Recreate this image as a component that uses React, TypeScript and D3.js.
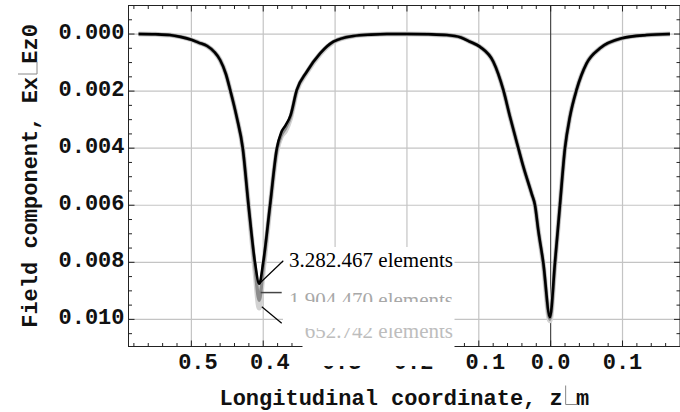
import React from "react";
import * as d3 from "d3";

// longitudinal coordinate (m) and |Ex/Ez0| for three mesh sizes (in units of 1e-3)
const zPoints = [
  -0.5735, -0.55, -0.53, -0.515, -0.5, -0.49, -0.478, -0.468, -0.46, -0.452,
  -0.446, -0.437, -0.4285, -0.4205, -0.4115, -0.4056, -0.4, -0.3905, -0.381, -0.375,
  -0.369, -0.362, -0.3533, -0.3394, -0.3208, -0.3024, -0.2745, -0.25, -0.228, -0.2,
  -0.17, -0.1447, -0.125, -0.1122, -0.0983, -0.0798, -0.0659, -0.0566, -0.045, -0.038,
  -0.0264, -0.0218, -0.0172, -0.0103, -0.001, 0.006, 0.0129, 0.0199, 0.0268, 0.036,
  0.05, 0.0686, 0.099, 0.1335, 0.166,
];
const fineMesh = [
  0, 0.01, 0.035, 0.1, 0.2, 0.3, 0.42, 0.63, 0.91, 1.4,
  1.96, 2.9, 4.0, 6.0, 8.0, 8.75, 8.0, 6.0, 4.0, 3.45,
  3.2, 2.85, 1.96, 1.32, 0.68, 0.27, 0.07, 0.02, 0, 0,
  0.01, 0.035, 0.12, 0.27, 0.45, 0.97, 1.96, 2.9, 4.0, 4.65,
  5.6, 6.0, 6.88, 8.0, 9.92, 8.0, 6.0, 4.0, 2.9, 1.96,
  1.03, 0.5, 0.15, 0.035, 0,
];
const mediumMesh = [
  0, 0.01, 0.035, 0.1, 0.2, 0.3, 0.42, 0.63, 0.91, 1.4,
  1.96, 2.9, 4.0, 6.0, 8.15, 9.33, 8.15, 6.0, 4.05, 3.55,
  3.3, 2.9, 1.98, 1.33, 0.68, 0.27, 0.07, 0.02, 0, 0,
  0.01, 0.035, 0.12, 0.27, 0.45, 0.97, 1.96, 2.9, 4.0, 4.65,
  5.6, 6.0, 6.88, 8.05, 10.0, 8.05, 6.0, 4.0, 2.9, 1.96,
  1.03, 0.5, 0.15, 0.035, 0,
];
const coarseMesh = [
  0, 0.01, 0.035, 0.1, 0.2, 0.3, 0.42, 0.63, 0.91, 1.4,
  1.96, 2.9, 4.0, 6.0, 8.3, 9.6, 8.3, 6.05, 4.1, 3.6,
  3.4, 2.95, 2.0, 1.35, 0.7, 0.28, 0.07, 0.02, 0, 0,
  0.01, 0.035, 0.12, 0.27, 0.45, 0.97, 1.96, 2.9, 4.0, 4.65,
  5.6, 6.0, 6.88, 8.05, 10.05, 8.05, 6.0, 4.0, 2.9, 1.96,
  1.03, 0.5, 0.15, 0.035, 0,
];
const meshLabels = ["3.282.467 elements", "1.904.470 elements", "652.742 elements"];

const xTickValues = [-0.5, -0.4, -0.3, -0.2, -0.1, 0, 0.1];
const xTickLabels = ["0.5", "0.4", "0.3", "0.2", "0.1", "0.0", "0.1"];
const yTickValues = [0, 0.002, 0.004, 0.006, 0.008, 0.01];
const yTickLabels = ["0.000", "0.002", "0.004", "0.006", "0.008", "0.010"];

const UNIT = 1e-3;
const left = 128.5, right = 680, top = 5.5, bottom = 346.5;
const mono = "'Liberation Mono', 'Courier New', monospace";
const serif = "'Liberation Serif', 'Times New Roman', serif";
const fontSize = 22;
const charW = fontSize * 0.6;

export default function App() {
  const x = d3.scaleLinear().domain([-0.5875, 0.18]).range([left, right]);
  const y = d3.scaleLinear().domain([-0.001, 0.01095]).range([top, bottom]);

  const line = d3
    .line<[number, number]>()
    .x((d) => x(d[0]))
    .y((d) => y(d[1] * UNIT))
    .curve(d3.curveMonotoneX);

  const toPts = (vals: number[]) => zPoints.map((z, i) => [z, vals[i]] as [number, number]);

  // position of the left minimum of each series, used to anchor the callouts
  const minPoint = (vals: number[]) => {
    const i = d3.maxIndex(vals.slice(0, 25));
    return [x(zPoints[i]), y(vals[i] * UNIT)];
  };
  const [fx, fy] = minPoint(fineMesh);
  const [mx, my] = minPoint(mediumMesh);
  const [cx, cy] = minPoint(coarseMesh);

  const xMinor = d3.range(-29, 10).map((i) => i * 0.02).filter((v) => x(v) < right - 0.5);
  const yMinor = d3.range(-1, 22).map((i) => i * 0.0005);

  const titleX = "Longitudinal coordinate, z m";
  const titleY = "Field component, Ex Ez0";
  const xTitleStart = (left + right) / 2 - (titleX.length * charW) / 2;
  const yTitleStart = -(titleY.length * charW) / 2;
  const xTitleBase = 404.5;

  return (
    <svg
      width={680}
      height={412}
      style={{ position: "absolute", left: 0, top: 0, background: "#fff" }}
    >
      <rect x={0} y={0} width={680} height={412} fill="#fff" />

      {/* grid */}
      {xTickValues.filter((v) => v !== 0).map((v) => (
        <line key={"gx" + v} x1={x(v)} x2={x(v)} y1={top} y2={bottom} stroke="#c4c4c4" strokeWidth={1.2} />
      ))}
      {yTickValues.map((v) => (
        <line key={"gy" + v} x1={left} x2={right} y1={y(v)} y2={y(v)} stroke="#c4c4c4" strokeWidth={1.2} />
      ))}
      <line x1={x(0)} x2={x(0)} y1={top} y2={bottom} stroke="#3a3a3a" strokeWidth={1.1} />

      {/* frame */}
      <rect x={left} y={top} width={right - left} height={bottom - top} fill="none" stroke="#222" strokeWidth={1} />

      {/* ticks */}
      {xMinor.map((v) => {
        const major = xTickValues.some((t) => Math.abs(t - v) < 1e-9);
        const len = major ? 6 : 3.5;
        return (
          <g key={"tx" + v} stroke="#222" strokeWidth={1}>
            <line x1={x(v)} x2={x(v)} y1={bottom} y2={bottom - len} />
            <line x1={x(v)} x2={x(v)} y1={top} y2={top + len} />
          </g>
        );
      })}
      {yMinor.map((v) => {
        const major = yTickValues.some((t) => Math.abs(t - v) < 1e-9);
        const len = major ? 6 : 3.5;
        return (
          <g key={"ty" + v} stroke="#222" strokeWidth={1}>
            <line x1={left} x2={left + len} y1={y(v)} y2={y(v)} />
            <line x1={right} x2={right - len} y1={y(v)} y2={y(v)} />
          </g>
        );
      })}

      {/* tick labels */}
      {xTickValues.map((v, i) => (
        <text
          key={"lx" + v}
          x={x(v) + (v < 0 ? charW / 2 : 0)}
          y={368.5}
          textAnchor="middle"
          fontFamily={mono}
          fontWeight="bold"
          fontSize={fontSize}
          fill="#111"
        >
          {xTickLabels[i]}
        </text>
      ))}
      {yTickValues.map((v, i) => (
        <text
          key={"ly" + v}
          x={124.5}
          y={y(v) + 5}
          textAnchor="end"
          fontFamily={mono}
          fontWeight="bold"
          fontSize={fontSize}
          fill="#111"
        >
          {yTickLabels[i]}
        </text>
      ))}

      {/* curves */}
      <path d={line(toPts(coarseMesh)) ?? ""} fill="none" stroke="#d2d2d2" strokeWidth={5} />
      <path d={line(toPts(mediumMesh)) ?? ""} fill="none" stroke="#8c8c8c" strokeWidth={3.4} />
      <path d={line(toPts(fineMesh)) ?? ""} fill="none" stroke="#000" strokeWidth={2.6} />

      {/* callouts */}
      <rect x={283} y={247} width={171.5} height={79} fill="#fff" />
      <rect x={302.5} y={326} width={152} height={40} fill="#fff" />
      <text x={453} y={266.7} textAnchor="end" fontFamily={serif} fontSize={21} fill="#000">
        {meshLabels[0]}
      </text>
      <text x={453} y={307.2} textAnchor="end" fontFamily={serif} fontSize={21} fill="#a8a8a8">
        {meshLabels[1]}
      </text>
      <text x={453} y={338.3} textAnchor="end" fontFamily={serif} fontSize={21} fill="#bdbdbd">
        {meshLabels[2]}
      </text>
      <rect x={287} y={302} width={167} height={26} fill="#fff" />
      <line x1={fx} y1={fy} x2={283.3} y2={260.7} stroke="#000" strokeWidth={1.2} />
      <line x1={mx + 1.5} y1={my - 7.7} x2={281.7} y2={my - 7.7} stroke="#444" strokeWidth={1.5} />
      <line x1={cx + 2.6} y1={cy - 1.3} x2={281.7} y2={323.3} stroke="#000" strokeWidth={1.2} />

      {/* axis titles */}
      <text
        x={xTitleStart}
        y={xTitleBase}
        fontFamily={mono}
        fontWeight="bold"
        fontSize={fontSize}
        fill="#111"
        style={{ whiteSpace: "pre" }}
      >
        {titleX}
      </text>
      <polyline
        points={`${xTitleStart + 26 * charW + 3},${xTitleBase - 19} ${xTitleStart + 26 * charW + 3},${xTitleBase} ${xTitleStart + 27 * charW + 2},${xTitleBase}`}
        stroke="#888"
        strokeWidth={1}
        fill="none"
      />
      <g transform={`translate(37,176) rotate(-90)`}>
        <text
          x={yTitleStart}
          y={0}
          fontFamily={mono}
          fontWeight="bold"
          fontSize={fontSize}
          fill="#111"
          style={{ whiteSpace: "pre" }}
        >
          {titleY}
        </text>
        <polyline
          points={`${yTitleStart + 19 * charW + 3},${-19} ${yTitleStart + 19 * charW + 3},${0} ${yTitleStart + 20 * charW + 2},${0}`}
          stroke="#888"
          strokeWidth={1}
          fill="none"
        />
      </g>
    </svg>
  );
}
